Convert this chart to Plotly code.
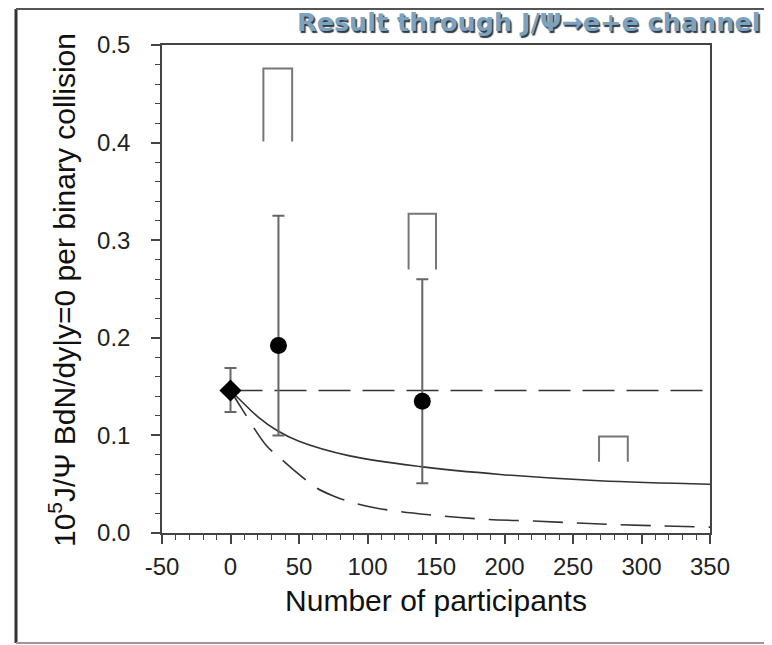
import plotly.graph_objects as go

# ---------------- data ----------------
ref_x = [0]
ref_y = [0.146]
ref_hi = [0.169]
ref_lo = [0.124]

au_x = [35, 140]
au_y = [0.192, 0.135]
au_hi = [0.325, 0.260]
au_lo = [0.100, 0.051]

sys_x_left = [24, 130, 269]
sys_x_right = [45, 150, 290]
sys_top = [0.476, 0.327, 0.099]
sys_bottom = [0.401, 0.270, 0.073]

solid_x = [0, 8, 20, 34, 50, 87, 139, 197, 269, 350]
solid_y = [0.146, 0.135, 0.119, 0.105, 0.094, 0.079, 0.068, 0.060, 0.0535, 0.050]

dash_x = [0, 8, 26, 36, 50, 63, 76, 87, 106, 145, 183, 225, 266, 307, 350]
dash_y = [0.146, 0.128, 0.090, 0.077, 0.060, 0.046, 0.0375, 0.032, 0.0256,
          0.0187, 0.0143, 0.012, 0.0095, 0.0075, 0.006]

flat_x = [0, 350]
flat_y = [0.146, 0.146]

x_ticks = [-50, 0, 50, 100, 150, 200, 250, 300, 350]
y_ticks = [0.0, 0.1, 0.2, 0.3, 0.4, 0.5]

title_text = "Result through J/Ψ→e+e channel"
x_title = "Number of participants"
y_title = "10<sup>5</sup>J/Ψ BdN/dy|y=0 per binary collision"

# ---------------- figure ----------------
OFF = 8  # page body margin
W, H = 772 - OFF, 645 - OFF
# plot area on the page: x 162..710, y 45..533
ML, MT = 162 - OFF, 45 - OFF
MR = W - (710 - OFF)
MB = H - (533 - OFF)
PW, PH = W - ML - MR, H - MT - MB


def px(xp):
    """page x pixel -> paper coordinate"""
    return (xp - OFF - ML) / PW


def py(yp):
    """page y pixel -> paper coordinate"""
    return (H - MB - (yp - OFF)) / PH


fig = go.Figure()

fig.add_trace(go.Scatter(x=flat_x, y=flat_y, mode="lines",
                         line=dict(color="#333", width=1.6, dash="32px,12px"),
                         hoverinfo="skip", showlegend=False))
fig.add_trace(go.Scatter(x=solid_x, y=solid_y, mode="lines", line_shape="spline",
                         line=dict(color="#333", width=1.6),
                         hoverinfo="skip", showlegend=False))
fig.add_trace(go.Scatter(x=dash_x, y=dash_y, mode="lines", line_shape="spline",
                         line=dict(color="#333", width=1.6, dash="30px,14px"),
                         hoverinfo="skip", showlegend=False))

bx, by = [], []
for xl, xr, t, b in zip(sys_x_left, sys_x_right, sys_top, sys_bottom):
    bx += [xl, xl, xr, xr, None]
    by += [b, t, t, b, None]
fig.add_trace(go.Scatter(x=bx, y=by, mode="lines",
                         line=dict(color="#777", width=2),
                         hoverinfo="skip", showlegend=False))

fig.add_trace(go.Scatter(
    x=ref_x, y=ref_y, mode="markers",
    marker=dict(symbol="diamond", size=17, color="black"),
    error_y=dict(type="data", symmetric=False,
                 array=[h - v for h, v in zip(ref_hi, ref_y)],
                 arrayminus=[v - l for l, v in zip(ref_lo, ref_y)],
                 color="#666", thickness=2, width=6),
    showlegend=False))

fig.add_trace(go.Scatter(
    x=au_x, y=au_y, mode="markers",
    marker=dict(symbol="circle", size=17, color="black"),
    error_y=dict(type="data", symmetric=False,
                 array=[h - v for h, v in zip(au_hi, au_y)],
                 arrayminus=[v - l for l, v in zip(au_lo, au_y)],
                 color="#666", thickness=2, width=6),
    showlegend=False))

FONT = "Liberation Sans, Arial, sans-serif"
axis_font = dict(family=FONT, size=24, color="#222")

fig.update_xaxes(range=[-50, 350], tickvals=x_ticks, ticktext=[str(v) for v in x_ticks],
                 showgrid=False, zeroline=False,
                 showline=True, linecolor="#444", linewidth=1.5, mirror=True,
                 ticks="outside", ticklen=9, tickwidth=1.5, tickcolor="#444",
                 minor=dict(dtick=10, ticks="outside", ticklen=5, tickwidth=1, tickcolor="#444"),
                 tickfont=axis_font, ticklabelstandoff=2,
                 title=dict(text=x_title, font=dict(family=FONT, size=30, color="#111"),
                            standoff=11))
fig.update_yaxes(range=[0, 0.5], tickvals=y_ticks, ticktext=[f"{v:.1f}" for v in y_ticks],
                 showgrid=False, zeroline=False,
                 showline=True, linecolor="#444", linewidth=1.5, mirror=True,
                 ticks="outside", ticklen=9, tickwidth=1.5, tickcolor="#444",
                 minor=dict(dtick=0.02, ticks="outside", ticklen=5, tickwidth=1, tickcolor="#444"),
                 tickfont=axis_font, ticklabelstandoff=16)

# y-axis title as rotated annotation for exact placement
fig.add_annotation(text=y_title, xref="paper", yref="paper",
                   x=px(62), y=py(290), xanchor="center", yanchor="middle",
                   textangle=-90, showarrow=False,
                   font=dict(family=FONT, size=30, color="#111"))

# slide frame lines
fig.add_shape(type="line", xref="paper", yref="paper",
              x0=px(16), x1=px(16), y0=py(9), y1=py(643),
              line=dict(color="#333", width=3))
fig.add_shape(type="line", xref="paper", yref="paper",
              x0=px(16), x1=px(772), y0=py(9), y1=py(9),
              line=dict(color="#555", width=2))
fig.add_shape(type="line", xref="paper", yref="paper",
              x0=px(16), x1=px(772), y0=py(643), y1=py(643),
              line=dict(color="#999", width=2))

fig.add_annotation(text="<b>" + title_text + "</b>", xref="paper", yref="paper",
                   x=px(762), y=py(22), xanchor="right", yanchor="middle",
                   showarrow=False,
                   font=dict(family="DejaVu Sans, Verdana, sans-serif", size=25.5,
                             color="#7ba2bf", shadow="1.5px 1.5px 1px #2f3a44"))

fig.update_layout(width=W, height=H,
                  margin=dict(l=ML, r=MR, t=MT, b=MB),
                  paper_bgcolor="white", plot_bgcolor="white")

fig.write_html("out.html")
